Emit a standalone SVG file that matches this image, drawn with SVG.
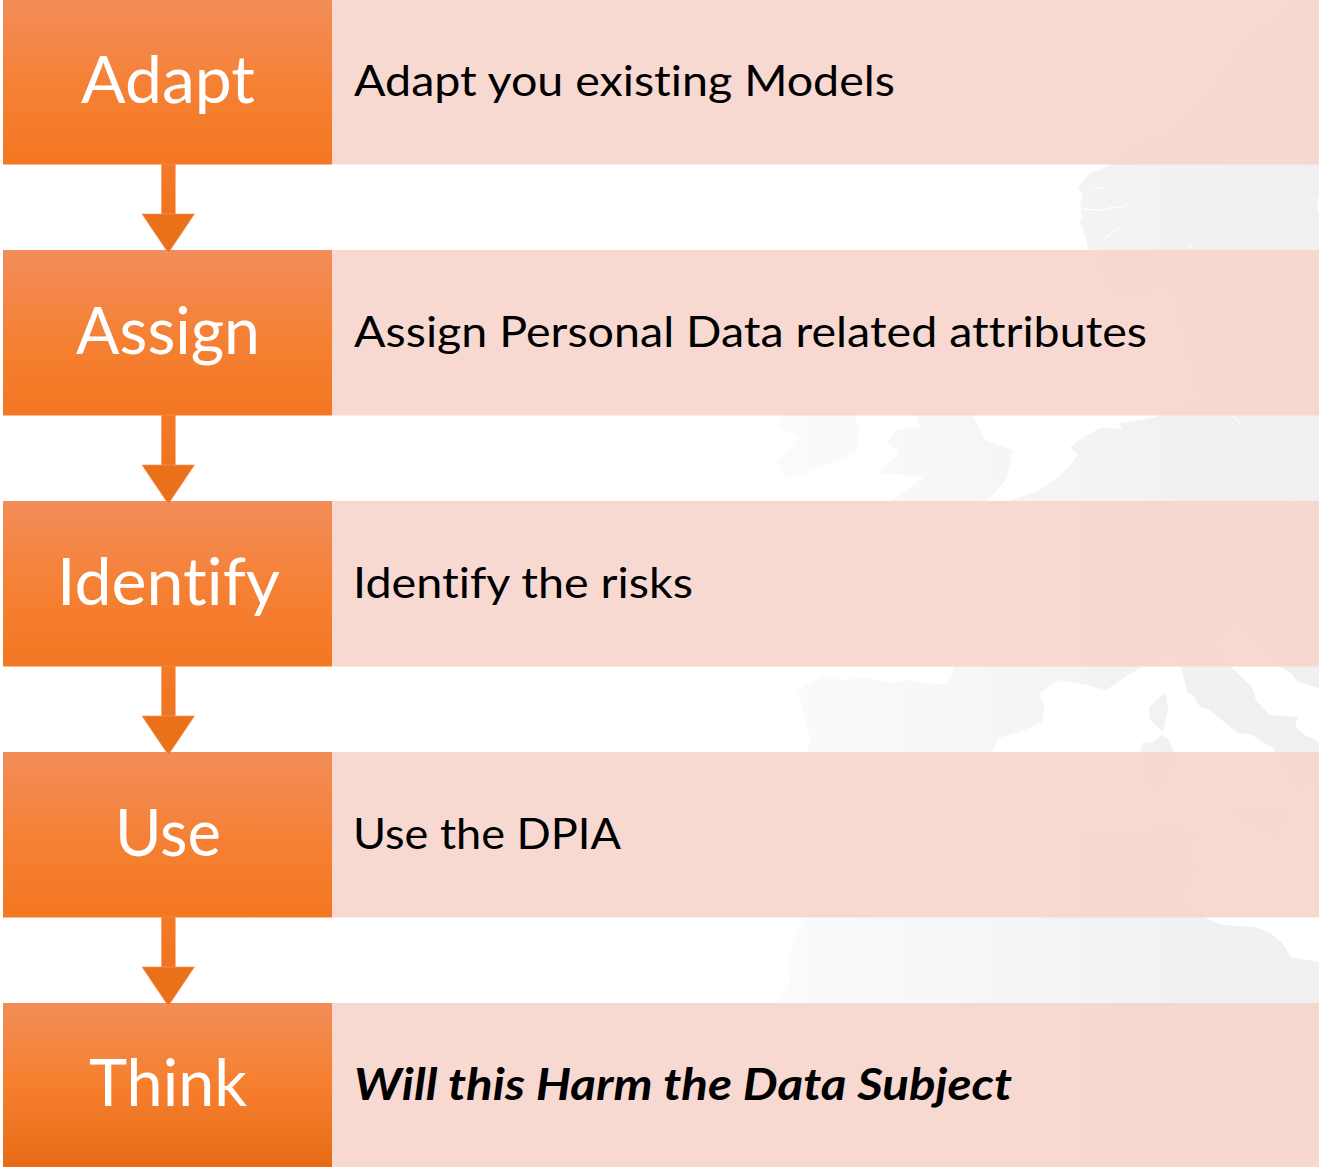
<svg xmlns="http://www.w3.org/2000/svg" width="1319" height="1167" viewBox="0 0 1319 1167">
<style>
.box{fill:url(#boxGrad)}
.box-last{fill:url(#lastGrad)}
.band{fill:rgb(246,214,206);fill-opacity:.92}
.land{fill:url(#landGrad)}
.fjord{fill:none;stroke:#fff;stroke-width:1.1}
.big,.txt{font-family:Lato,"Liberation Sans",sans-serif;font-variant-ligatures:none}
.big{font-size:65px;fill:#fff}
.txt{font-size:43px;fill:#000}
.em{font-weight:700;font-style:italic}
.shaft{fill:url(#shaftGrad);stroke:#f5955a;stroke-width:.5}
.head{fill:#ea7019;stroke:#f59a63;stroke-width:.7}
</style>
<defs>
<linearGradient id="boxGrad" x1="0" y1="0" x2="0" y2="1">
<stop offset="0" stop-color="#f28d5a"/><stop offset=".55" stop-color="#f58033"/><stop offset="1" stop-color="#f47722"/>
</linearGradient>
<linearGradient id="lastGrad" x1="0" y1="0" x2="0" y2="1">
<stop offset="0" stop-color="#f28d58"/><stop offset=".5" stop-color="#f67f2e"/><stop offset="1" stop-color="#e76b16"/>
</linearGradient>
<linearGradient id="shaftGrad" x1="0" y1="0" x2="0" y2="1">
<stop offset="0" stop-color="#f47a28"/><stop offset="1" stop-color="#ee7420"/>
</linearGradient>
<linearGradient id="landGrad" gradientUnits="userSpaceOnUse" x1="775" y1="0" x2="1319" y2="0">
<stop offset="0" stop-color="#fbfbfb"/><stop offset=".4" stop-color="#f6f6f6"/><stop offset=".75" stop-color="#f1f1f1"/><stop offset="1" stop-color="#f0f0f0"/>
</linearGradient>
<g id="arrow">
<rect class="shaft" x="161.500" y="0" width="13.800" height="51"/>
<path class="head" d="M142 50H194.500L168.300 89Z"/>
</g>
</defs>
<g id="map">
<path class="land" d="M1319 0H1295L1287 7L1240 43L1213 90L1173 130L1120 153L1110 165L1100 170L1092 172L1085 178L1078 188L1083 195L1080 205L1082 217L1080 222L1083 230L1086 240L1088 248L1115 300L1170 285L1200 400L1159 416L1145 419L1120 423L1122 429L1100 428L1084 437L1070 447L1078 455L1063 473L1040 490L1010 500L990 530L945 540L975 590L965 620L953 667V675L947 683L935 685L910 680L892 683L863 677L842 681L824 675L806 685L797 693L802 708L806 720L810 738L806 752L796 787L805 827L842 828L863 857L938 837L974 793L977 773L992 752L999 738L1024 730L1042 722L1045 710L1040 693L1059 680L1086 685L1106 690L1131 673L1143 667L1175 650L1181 667L1184 680L1188 693L1193 695L1200 707L1209 710L1238 733L1250 734L1273 748L1298 790L1319 773V742L1305 735L1295 727L1298 717L1270 715L1256 700L1252 687L1231 667L1215 640L1235 625L1280 667L1291 673L1298 682L1319 688Z"/>
<path class="land" d="M863 857L874 857L938 873L1000 850L1056 833L1152 830L1170 825L1198 833L1186 857L1198 870L1177 897L1206 918L1223 925L1256 927L1270 933L1282 943L1291 957L1319 962V1167H755L770 1080L778 1003L790 982L787 957L796 937L806 918L840 880Z"/>
<path class="land" d="M778 427L795 400L830 385L854 416L860 427L856 453L831 463L787 480L776 463L799 437Z"/>
<path class="land" d="M892 500L924 477L878 473L899 453L888 443L895 430L920 427L917 417L890 380L900 340L945 330L940 370L974 417L985 440L1013 450L1006 480L988 500L960 515L910 515Z"/>
<path class="land" d="M1166 692L1149 707L1150 720L1163 732L1168 710ZM1143 742L1140 752L1152 790L1168 782L1174 752L1168 738L1161 735L1152 743Z"/>
<path class="land" d="M1225 812L1241 805L1288 807L1280 838L1259 830Z"/>
<path class="fjord" d="M1080 209L1103 210L1112 207L1125 208L1127 202M1092 187L1105 188M1106 237L1120 228M1188 248L1192 245M1318 197V213M1233 416L1240 423"/>
</g>
<g id="bands">
<rect class="band" x="332" y="0" width="987" height="164.500"/>
<rect class="band" x="332" y="250" width="987" height="165.500"/>
<rect class="band" x="332" y="501" width="987" height="165.500"/>
<rect class="band" x="332" y="752" width="987" height="165.500"/>
<rect class="band" x="332" y="1003" width="987" height="164"/>
</g>
<g id="node-adapt"><rect class="box" x="3" y="0" width="329" height="164.500"/><text class="big" x="81" y="102.500" textLength="174" lengthAdjust="spacingAndGlyphs">Adapt</text><text class="txt" x="354" y="96" textLength="541" lengthAdjust="spacingAndGlyphs">Adapt you existing Models</text></g>
<g id="node-assign"><rect class="box" x="3" y="250" width="329" height="165.500"/><text class="big" x="76" y="353.500" textLength="184" lengthAdjust="spacingAndGlyphs">Assign</text><text class="txt" x="354" y="347" textLength="793" lengthAdjust="spacingAndGlyphs">Assign Personal Data related attributes</text></g>
<g id="node-identify"><rect class="box" x="3" y="501" width="329" height="165.500"/><text class="big" x="57" y="604.500" textLength="223" lengthAdjust="spacingAndGlyphs">Identify</text><text class="txt" x="353" y="598" textLength="340" lengthAdjust="spacingAndGlyphs">Identify the risks</text></g>
<g id="node-use"><rect class="box" x="3" y="752" width="329" height="165.500"/><text class="big" x="115" y="855.500" textLength="106" lengthAdjust="spacingAndGlyphs">Use</text><text class="txt" x="353" y="849" textLength="268" lengthAdjust="spacingAndGlyphs">Use the DPIA</text></g>
<g id="node-think"><rect class="box-last" x="3" y="1003" width="329" height="164"/><text class="big" x="89" y="1106" textLength="158" lengthAdjust="spacingAndGlyphs">Think</text><text class="txt em" x="354" y="1099.500" textLength="658" lengthAdjust="spacingAndGlyphs">Will this Harm the Data Subject</text></g>
<g id="connectors">
<use href="#arrow" y="164"/>
<use href="#arrow" y="415"/>
<use href="#arrow" y="666"/>
<use href="#arrow" y="917"/>
</g>
</svg>
